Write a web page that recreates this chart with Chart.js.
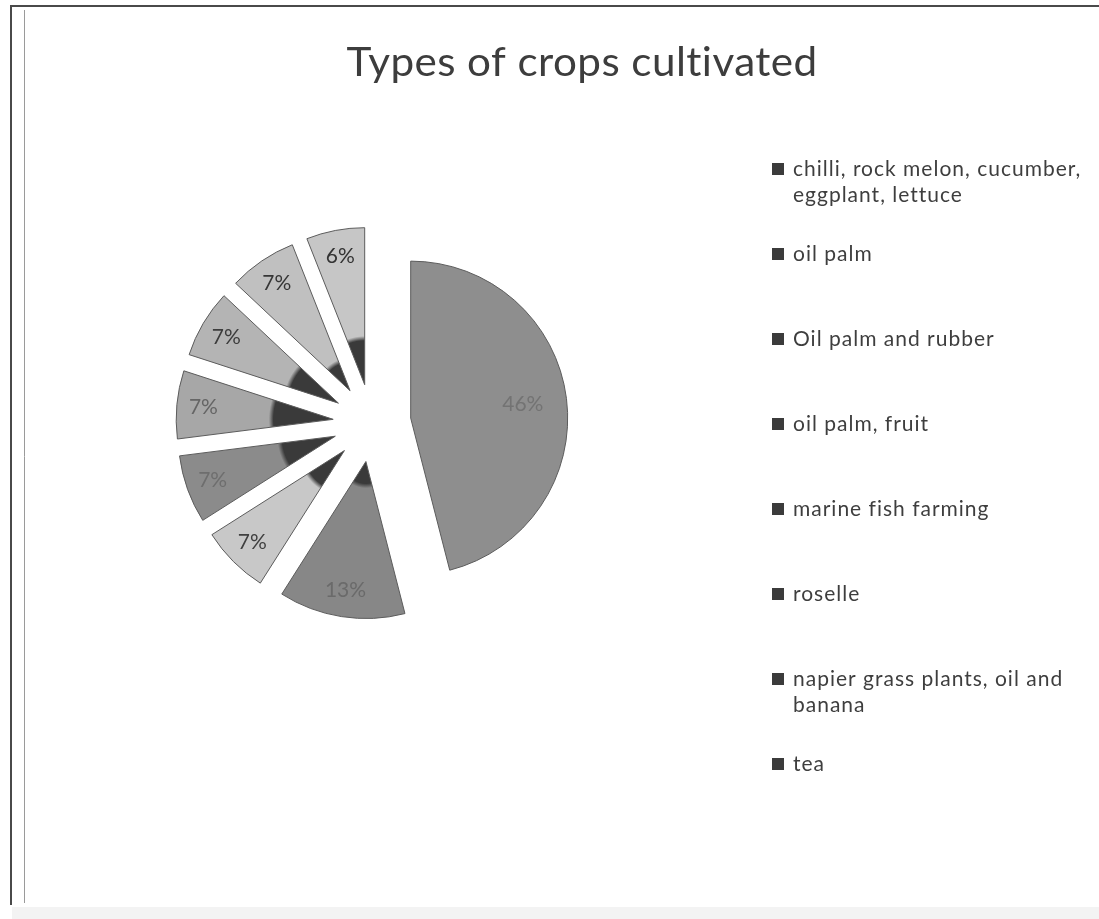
<!DOCTYPE html>
<html>
<head>
<meta charset="utf-8">
<title>Types of crops cultivated</title>
<script src="https://cdn.jsdelivr.net/npm/chart.js@4.4.1/dist/chart.umd.min.js"></script>
<style>
  html, body { margin: 0; padding: 0; background: #fff; }
  #wrap { width: 1099px; height: 919px; }
</style>
</head>
<body>
<div id="wrap"><canvas id="cropChart" width="1099" height="919"></canvas></div>
<script>
// data
var categories = [
  'chilli, rock melon, cucumber, eggplant, lettuce',
  'oil palm',
  'Oil palm and rubber',
  'oil palm, fruit',
  'marine fish farming',
  'roselle',
  'napier grass plants, oil and banana',
  'tea'
];
var shares = [46, 13, 7, 7, 7, 7, 7, 6];

// grey tones of the scan
var sliceColors = ['#8e8e8e', '#878787', '#c8c8c8', '#8b8b8b', '#a7a7a7', '#b4b4b4', '#c0c0c0', '#c6c6c6'];
var labelColors = ['#737373', '#6a6a6a', '#404040', '#6e6e6e', '#656565', '#3c3c3c', '#363636', '#333333'];
var tipShade = [0, 0.14, 0.26, 0.34, 0.38, 0.32, 0.18, 0.28];

var EXPLODE = 39;
var RADIUS = 157;

function wrapText(ctx, text, maxW) {
  var words = text.split(' '), lines = [], line = '';
  words.forEach(function(w) {
    var test = line ? line + ' ' + w : w;
    if (line && ctx.measureText(test).width > maxW) {
      lines.push(line);
      line = w;
    } else {
      line = test;
    }
  });
  if (line) lines.push(line);
  return lines;
}

// pull every slice out along its middle angle, radius unchanged
var explodePlugin = {
  id: 'explode',
  afterUpdate: function(chart) {
    chart.getDatasetMeta(0).data.forEach(function(arc) {
      if (arc._exploded) return;
      arc._exploded = true;
      arc.draw = function(ctx) {
        var mid = (this.startAngle + this.endAngle) / 2;
        ctx.save();
        ctx.translate(Math.cos(mid) * EXPLODE, Math.sin(mid) * EXPLODE);
        Chart.ArcElement.prototype.draw.call(this, ctx);
        ctx.restore();
      };
    });
  }
};

var framePlugin = {
  id: 'frame',
  beforeDraw: function(chart) {
    var ctx = chart.ctx;
    ctx.save();
    ctx.fillStyle = '#fff';
    ctx.fillRect(0, 0, chart.width, chart.height);
    ctx.strokeStyle = '#4a4a4a';
    ctx.lineWidth = 2;
    ctx.beginPath();
    ctx.moveTo(10, 6); ctx.lineTo(1099, 6);
    ctx.moveTo(11, 6); ctx.lineTo(11, 905);
    ctx.stroke();
    ctx.strokeStyle = '#9a9a9a';
    ctx.lineWidth = 1;
    ctx.beginPath();
    ctx.moveTo(24.5, 10); ctx.lineTo(24.5, 903);
    ctx.stroke();
    ctx.fillStyle = '#f3f3f3';
    ctx.fillRect(12, 907, 1087, 12);
    ctx.restore();
  }
};

var titlePlugin = {
  id: 'sheetTitle',
  afterDraw: function(chart) {
    var ctx = chart.ctx;
    var text = 'Types of crops cultivated';
    ctx.save();
    ctx.font = '40px Lato';
    ctx.letterSpacing = '0.4px';
    ctx.fillStyle = '#3d3d3d';
    ctx.textBaseline = 'alphabetic';
    ctx.textAlign = 'center';
    var w = ctx.measureText(text).width;
    ctx.translate(582, 76);
    ctx.scale(471 / w, 1);
    ctx.fillText(text, 0, 0);
    ctx.restore();
  }
};

var sliceLabels = {
  id: 'sliceLabels',
  afterDatasetsDraw: function(chart) {
    var ctx = chart.ctx;
    var values = chart.data.datasets[0].data;
    var total = values.reduce(function(a, b) { return a + b; }, 0);
    ctx.save();
    ctx.font = '21px Lato';
    ctx.textAlign = 'center';
    ctx.textBaseline = 'middle';
    chart.getDatasetMeta(0).data.forEach(function(arc, i) {
      var mid = (arc.startAngle + arc.endAngle) / 2;
      var pct = Math.round(values[i] / total * 100);
      var d = EXPLODE + arc.outerRadius * (pct > 30 ? 0.72 : 0.83);
      ctx.fillStyle = labelColors[i];
      ctx.fillText(pct + '%', arc.x + Math.cos(mid) * d, arc.y + Math.sin(mid) * d);
    });
    ctx.restore();
  }
};

var sideLegend = {
  id: 'sideLegend',
  afterDraw: function(chart) {
    var ctx = chart.ctx;
    ctx.save();
    ctx.font = '21px Lato';
    ctx.letterSpacing = '1px';
    ctx.textBaseline = 'middle';
    chart.data.labels.forEach(function(label, i) {
      var y = 169 + i * 85;
      ctx.fillStyle = '#3b3b3b';
      ctx.fillRect(772, y - 6, 12, 12);
      ctx.fillStyle = '#3e3e3e';
      wrapText(ctx, label, 306).forEach(function(line, k) {
        ctx.fillText(line, 793, y + k * 26);
      });
    });
    ctx.restore();
  }
};

new Chart(document.getElementById('cropChart'), {
  type: 'pie',
  data: {
    labels: categories,
    datasets: [{
      data: shares,
      radius: RADIUS,
      backgroundColor: function(c) {
        var i = c.dataIndex;
        var area = c.chart.chartArea;
        if (!area) return sliceColors[i];
        var cx = (area.left + area.right) / 2, cy = (area.top + area.bottom) / 2;
        var g = c.chart.ctx.createRadialGradient(cx, cy, 0, cx, cy, RADIUS);
        var t = tipShade[i];
        if (t > 0) {
          g.addColorStop(0, '#3a3a3a');
          g.addColorStop(t, '#3a3a3a');
          g.addColorStop(t + 0.03, sliceColors[i]);
        } else {
          g.addColorStop(0, sliceColors[i]);
        }
        g.addColorStop(1, sliceColors[i]);
        return g;
      },
      borderColor: '#5c5c5c',
      borderWidth: 1,
      offset: 0,
      hoverOffset: 0
    }]
  },
  options: {
    responsive: false,
    animation: false,
    events: [],
    layout: { padding: { left: 195, right: 550, top: 246, bottom: 319 } },
    plugins: {
      legend: { display: false },
      title: { display: false },
      tooltip: { enabled: false }
    }
  },
  plugins: [framePlugin, explodePlugin, sliceLabels, titlePlugin, sideLegend]
});
</script>
</body>
</html>
